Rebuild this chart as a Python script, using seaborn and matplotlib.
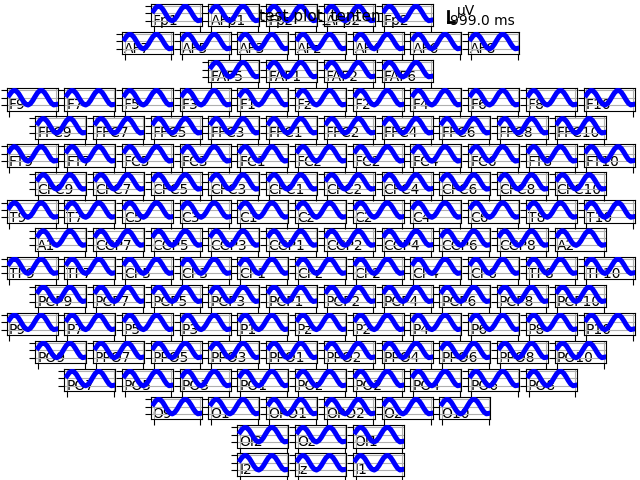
import matplotlib
matplotlib.use("Agg")
import matplotlib.pyplot as plt
import numpy as np
import pandas as pd
import seaborn as sns

# ---- data ----
times = [0.0, 0.05, 0.10, 0.15, 0.20, 0.25, 0.30, 0.35, 0.40, 0.45, 0.50,
         0.55, 0.60, 0.65, 0.70, 0.75, 0.80, 0.85, 0.90, 0.95, 1.0]
amplitude = [0.35, 0.79, 0.99, 0.90, 0.55, 0.03, -0.50, -0.88, -1.00, -0.82, -0.40,
             0.14, 0.64, 0.95, 0.97, 0.71, 0.24, -0.30, -0.76, -0.99, -0.93]

row_grid = [10, 11, 10, 11, 10, 11, 10, 11, 10, 11, 10, 11, 10, 11, 10, 11, 11]
row_start = [2, 2, 3, 0, 0, 0, 0, 0, 0, 0, 0, 0, 0, 1, 2, 4, 4]
row_names = [
    ["Fp1", "AFp1", "Fpz", "AFp2", "Fp2"],
    ["AF7", "AF5", "AF3", "AFz", "AF4", "AF6", "AF8"],
    ["FAF5", "FAF1", "FAF2", "FAF6"],
    ["F9", "F7", "F5", "F3", "F1", "Fz", "F2", "F4", "F6", "F8", "F10"],
    ["FFC9", "FFC7", "FFC5", "FFC3", "FFC1", "FFC2", "FFC4", "FFC6", "FFC8", "FFC10"],
    ["FT9", "FT7", "FC5", "FC3", "FC1", "FCz", "FC2", "FC4", "FC6", "FT8", "FT10"],
    ["CFC9", "CFC7", "CFC5", "CFC3", "CFC1", "CFC2", "CFC4", "CFC6", "CFC8", "CFC10"],
    ["T9", "T7", "C5", "C3", "C1", "Cz", "C2", "C4", "C6", "T8", "T10"],
    ["A1", "CCP7", "CCP5", "CCP3", "CCP1", "CCP2", "CCP4", "CCP6", "CCP8", "A2"],
    ["TP9", "TP7", "CP5", "CP3", "CP1", "CPz", "CP2", "CP4", "CP6", "TP8", "TP10"],
    ["PCP9", "PCP7", "PCP5", "PCP3", "PCP1", "PCP2", "PCP4", "PCP6", "PCP8", "PCP10"],
    ["P9", "P7", "P5", "P3", "P1", "Pz", "P2", "P4", "P6", "P8", "P10"],
    ["PO9", "PPO7", "PPO5", "PPO3", "PPO1", "PPO2", "PPO4", "PPO6", "PPO8", "PO10"],
    ["PO7", "PO5", "PO3", "PO1", "POz", "PO2", "PO4", "PO6", "PO8"],
    ["O9", "O1", "OPO1", "OPO2", "O2", "O10"],
    ["OI2", "Oz", "OI1"],
    ["I2", "Iz", "I1"],
]
title = "test plot_tenten"
unit_label = "\u03bcV"
time_label = "999.0 ms"

# ---- layout ----
W, H = 640, 480
SP = 57.7
X_OFF = {11: 6.5, 10: 35.3}
Y0, DY = 3.8, 28.08
AW, AH = 51.0, 22.5

df = pd.DataFrame({"time": times, "amp": amplitude})

fig = plt.figure(figsize=(6.4, 4.8), dpi=100)
fig.patch.set_facecolor("white")

for r, names in enumerate(row_names):
    x0 = X_OFF[row_grid[r]]
    top = Y0 + r * DY
    for k, name in enumerate(names):
        left = x0 + (row_start[r] + k) * SP
        ax = fig.add_axes([left / W, 1 - (top + AH) / H, AW / W, AH / H])
        ax.set_facecolor("none")
        sns.lineplot(data=df, x="time", y="amp", ax=ax, color="blue",
                     linewidth=3.6, estimator=None, zorder=4)
        ax.set_xlim(-0.06, 1.03)
        ax.set_ylim(-1.75, 1.3)
        ax.set_xticks([0, 1])
        ax.set_yticks([-1, 0, 1])
        ax.set_xticklabels([])
        ax.set_yticklabels([])
        ax.set_xlabel("")
        ax.set_ylabel("")
        ax.grid(True, color="#b0b0b0", linewidth=0.8)
        ax.tick_params(length=4, width=0.8)
        ax.text(0.04, 0.05, name, transform=ax.transAxes, fontsize=10,
                va="baseline", ha="left", color="black", zorder=1)

fig.text(0.5, 1 - 17 / H, title, ha="center", va="center", fontsize=11)

# scale legend
lax = fig.add_axes([430 / W, 1 - 35 / H, 110 / W, 35 / H])
lax.set_xlim(430, 540)
lax.set_ylim(35, 0)
lax.axis("off")
lax.plot([448, 448], [11, 22], color="black", linewidth=2)
lax.plot([448, 454], [22, 22], color="black", linewidth=2)
lax.text(457, 11, unit_label, fontsize=10, va="center", ha="left")
lax.text(450, 21, time_label, fontsize=10, va="center", ha="left")

fig.savefig("out.png", dpi=100)
